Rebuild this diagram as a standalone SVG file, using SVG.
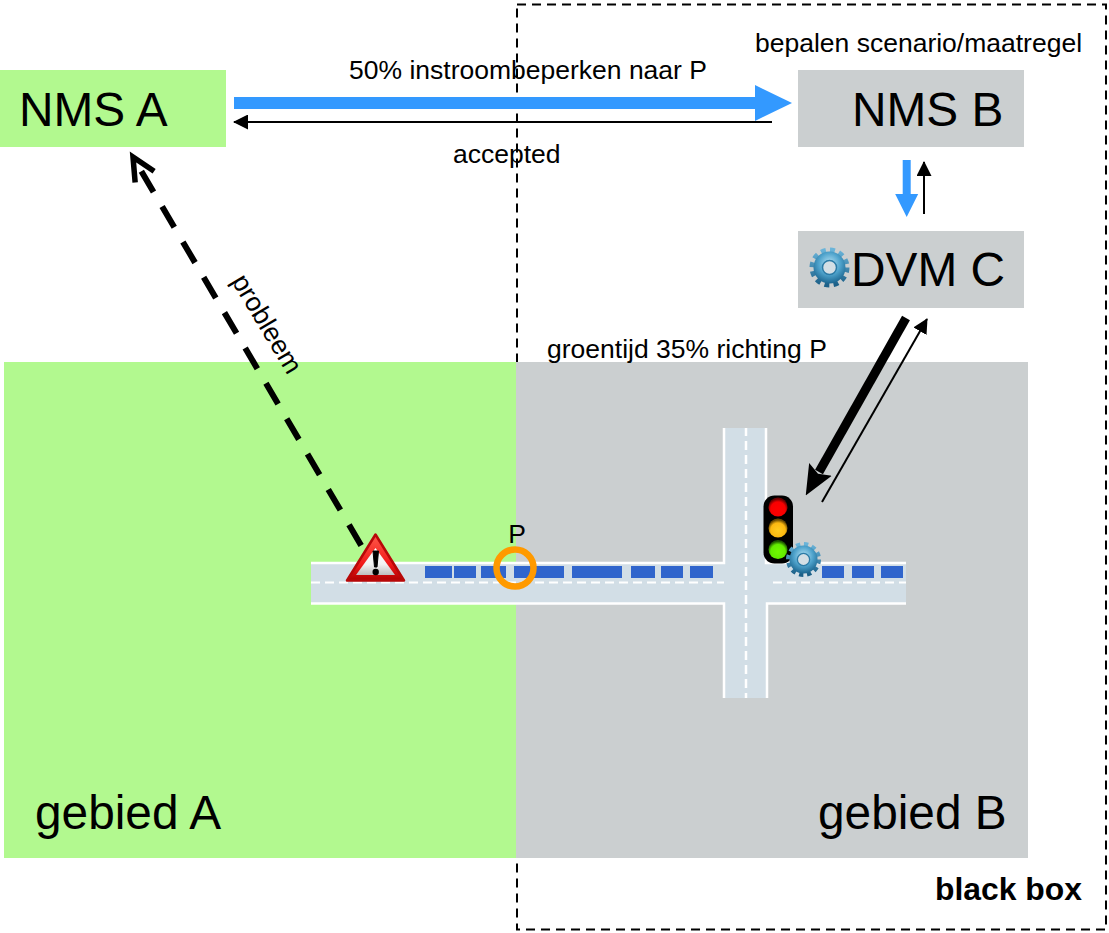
<svg xmlns="http://www.w3.org/2000/svg" width="1109" height="933" viewBox="0 0 1109 933">
<style>
text{font-family:"Liberation Sans",Arial,sans-serif;fill:#000}
.big{font-size:47.8px}
.lab{font-size:26.5px}
.car{fill:#3065cc}
.edge{stroke:#fff;stroke-width:2.5;fill:none}
.mid{stroke:#fff;stroke-width:2;fill:none;stroke-dasharray:9 5}
.midv{stroke:#fff;stroke-width:2.5;fill:none;stroke-dasharray:9 5;stroke-dashoffset:1}
</style>
<defs>
<marker id="hBlue" markerUnits="userSpaceOnUse" markerWidth="37" markerHeight="36" refX="0" refY="18" orient="auto"><path d="M0 0L37 18L0 36Z" fill="#3399ff"/></marker>
<marker id="hBlueS" markerUnits="userSpaceOnUse" markerWidth="23" markerHeight="24" refX="0" refY="12" orient="auto"><path d="M0 0.500L23 12L0 23.500Z" fill="#3399ff"/></marker>
<marker id="hBlack" markerUnits="userSpaceOnUse" markerWidth="15" markerHeight="15" refX="14" refY="7.500" orient="auto"><path d="M0 0L15 7.500L0 15Z" fill="#000"/></marker>
<marker id="hBig" markerUnits="userSpaceOnUse" markerWidth="30" markerHeight="30" refX="3" refY="15" orient="auto"><path d="M0 2L30 15L0 28L5 15Z" fill="#000"/></marker>
<marker id="hOpen" markerUnits="userSpaceOnUse" markerWidth="42" markerHeight="34" refX="32" refY="17" orient="auto-start-reverse"><path d="M9 6L32 17L9 28" fill="none" stroke="#000" stroke-width="5.500"/></marker>
<radialGradient id="gearG" cx="50%" cy="38%" r="62%"><stop offset="0" stop-color="#b4e2f5"/><stop offset=".55" stop-color="#4fa3cc"/><stop offset="1" stop-color="#1c6690"/></radialGradient>
<linearGradient id="gearR" x1="0" y1="0" x2="0" y2="1"><stop offset="0" stop-color="#6ab4d9"/><stop offset="1" stop-color="#1c6088"/></linearGradient>
<linearGradient id="warnG" x1="0" y1="0" x2="0" y2="1"><stop offset="0" stop-color="#ff5a4a"/><stop offset=".65" stop-color="#f01818"/><stop offset="1" stop-color="#b00000"/></linearGradient>
<linearGradient id="warnI" x1="0" y1="0" x2="0" y2="1"><stop offset="0" stop-color="#fff"/><stop offset=".6" stop-color="#f2f2f2"/><stop offset="1" stop-color="#bdbdbd"/></linearGradient>
<radialGradient id="lampR" cx="50%" cy="62%" r="55%"><stop offset="0" stop-color="#ff0000"/><stop offset=".7" stop-color="#f80000"/><stop offset="1" stop-color="#6a0000"/></radialGradient>
<radialGradient id="lampY" cx="50%" cy="62%" r="55%"><stop offset="0" stop-color="#ffcc20"/><stop offset=".7" stop-color="#fcb810"/><stop offset="1" stop-color="#6a4a00"/></radialGradient>
<radialGradient id="lampG" cx="50%" cy="62%" r="55%"><stop offset="0" stop-color="#70f800"/><stop offset=".7" stop-color="#62ea00"/><stop offset="1" stop-color="#1f5a00"/></radialGradient>
<g id="gear">
<circle r="17.500" fill="none" stroke="url(#gearR)" stroke-width="5" stroke-dasharray="4.900 4.263"/>
<circle r="16" fill="url(#gearG)"/>
<circle r="7" fill="#d4dfe5" stroke="#2c7ba6" stroke-width="1.500"/>
</g>
</defs>

<g id="black-box"><rect x="517" y="4.500" width="589" height="925" fill="none" stroke="#000" stroke-width="2" stroke-dasharray="9 6"/><text x="935" y="900" font-size="32" font-weight="bold" textLength="147" lengthAdjust="spacingAndGlyphs">black box</text></g>
<g id="gebied-a"><rect x="4" y="362" width="512" height="496" fill="#b2f98f"/><text class="big" x="35" y="829">gebied A</text></g>
<g id="gebied-b"><rect x="516" y="362" width="512" height="496" fill="#cbcfd0"/><text class="big" x="818" y="829">gebied B</text></g>

<g id="road">
<rect x="311" y="563" width="595" height="40" fill="#d2dee6"/>
<rect x="724" y="428" width="43" height="270" fill="#d2dee6"/>
<path class="edge" d="M311 563H724V428M766 428V563H906M311 603.500H724V698M767 698V603.500H906"/>
<path class="mid" d="M311 582.500H724M773 582.500H906"/>
<path class="midv" d="M746 428V698"/>
<g>
<rect class="car" x="425" y="566" width="27" height="12"/><rect class="car" x="454" y="566" width="22" height="12"/><rect class="car" x="481" y="566" width="25" height="12"/><rect class="car" x="514" y="566" width="50" height="12"/><rect class="car" x="572" y="566" width="50" height="12"/><rect class="car" x="631" y="566" width="24" height="12"/><rect class="car" x="661" y="566" width="22" height="12"/><rect class="car" x="690" y="566" width="23" height="12"/><rect class="car" x="822" y="566" width="22" height="12"/><rect class="car" x="852" y="566" width="22" height="12"/><rect class="car" x="881" y="566" width="22" height="12"/>
</g>
</g>

<g id="connectors" fill="none">
<path d="M234 103H755" stroke="#3399ff" stroke-width="12" marker-end="url(#hBlue)"/>
<path d="M772 122H234" stroke="#000" stroke-width="2" marker-end="url(#hBlack)"/>
<path d="M906.700 160V194" stroke="#3399ff" stroke-width="8" marker-end="url(#hBlueS)"/>
<path d="M924 214V162" stroke="#000" stroke-width="2" marker-end="url(#hBlack)"/>
<path d="M906 318L819 472" stroke="#000" stroke-width="9" marker-end="url(#hBig)"/>
<path d="M822 502L927 319" stroke="#000" stroke-width="2" marker-end="url(#hBlack)"/>
<path d="M133 157L365 552" stroke="#000" stroke-width="6" stroke-dasharray="24 17" stroke-dashoffset="24.500" marker-start="url(#hOpen)"/>
</g>

<g id="warning">
<path d="M375.500 534.500L404 580.500H347Z" fill="url(#warnG)" stroke="#b80808" stroke-width="2.500" stroke-linejoin="round"/>
<path d="M375.500 548L395 575H356Z" fill="url(#warnI)"/>
<path d="M373 551H378.500L377 567H374.500Z" fill="#000" stroke="#000" stroke-width="1"/><circle cx="375.700" cy="572" r="3.200" fill="#000"/>
</g>

<g id="point-p"><circle cx="515" cy="568" r="18.500" fill="none" stroke="#ff9a00" stroke-width="6.500"/><text x="517" y="543" text-anchor="middle" font-size="26.500">P</text></g>

<g id="traffic-light">
<rect x="763.500" y="495.500" width="29.500" height="68" rx="11" fill="#000"/>
<circle cx="778" cy="507" r="9.500" fill="url(#lampR)"/><circle cx="778" cy="528" r="9.500" fill="url(#lampY)"/><circle cx="778" cy="549.500" r="9.500" fill="url(#lampG)"/>
<use href="#gear" transform="translate(803.500 559.500) scale(.875)"/>
</g>

<g id="nms-a"><rect x="0" y="70" width="226" height="77" fill="#b2f98f"/><text class="big" x="19" y="126">NMS A</text></g>
<g id="nms-b"><rect x="798" y="70" width="226" height="77" fill="#cbcfd0"/><text class="big" x="852" y="126">NMS B</text></g>
<g id="dvm-c"><rect x="798" y="231" width="226" height="77" fill="#cbcfd0"/><use href="#gear" transform="translate(829.500 267.500)"/><text class="big" x="851" y="286">DVM C</text></g>

<g id="labels">
<text class="lab" x="349" y="79">50% instroombeperken naar P</text>
<text class="lab" x="453" y="163">accepted</text>
<text class="lab" x="755" y="52">bepalen scenario/maatregel</text>
<text class="lab" x="547" y="358">groentijd 35% richting P</text>
<text class="lab" transform="translate(231 281) rotate(59)">probleem</text>
</g>
</svg>
